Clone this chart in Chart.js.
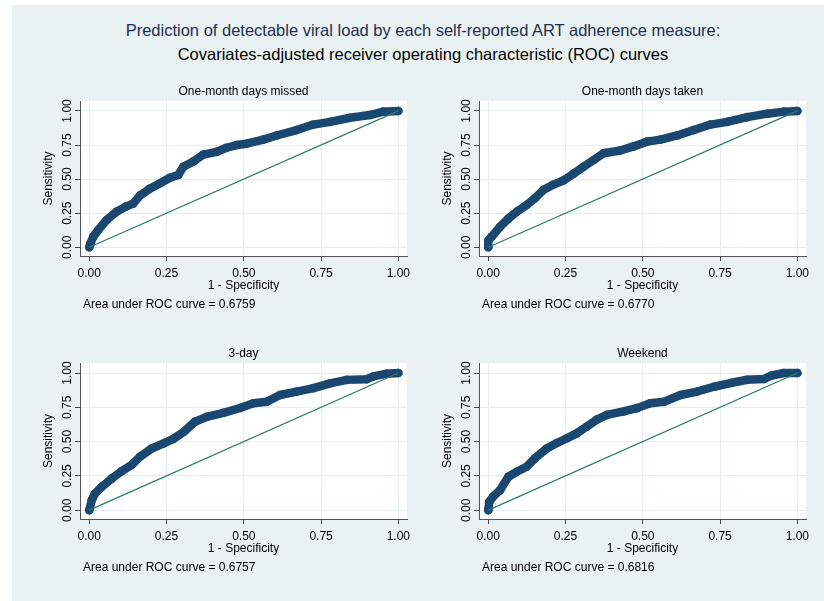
<!DOCTYPE html>
<html><head><meta charset="utf-8">
<script src="https://cdn.jsdelivr.net/npm/chart.js@4.4.0/dist/chart.umd.min.js"></script>
<style>
body{margin:0;width:824px;height:601px;background:#fff;position:relative;overflow:hidden;font-family:"Liberation Sans",Arial,sans-serif;}
#bg{position:absolute;left:12px;top:5px;right:0;bottom:0;background:#eaf1f3;}
.t{position:absolute;left:22px;right:0;text-align:center;font-size:16.5px;line-height:20px;white-space:nowrap;}
.p{position:absolute;}
canvas{display:block;}
</style></head><body>
<div id="bg"></div>
<div class="t" style="top:20px;color:#1f2e50">Prediction of detectable viral load by each self-reported ART adherence measure:</div>
<div class="t" style="top:44px;color:#000">Covariates-adjusted receiver operating characteristic (ROC) curves</div>
<div class="p" style="left:30px;top:80px"><canvas id="c0" width="390" height="240"></canvas></div>
<div class="p" style="left:429px;top:80px"><canvas id="c1" width="390" height="240"></canvas></div>
<div class="p" style="left:30px;top:342px"><canvas id="c2" width="390" height="241"></canvas></div>
<div class="p" style="left:429px;top:342px"><canvas id="c3" width="390" height="241"></canvas></div>
<script>
const panelTitles = ['One-month days missed', 'One-month days taken', '3-day', 'Weekend'];
const aucValues = ['0.6759', '0.6770', '0.6757', '0.6816'];
const tickValues = [0, 0.25, 0.5, 0.75, 1];
const tickLabels = ['0.00', '0.25', '0.50', '0.75', '1.00'];

const fprMissed = [0,0.004,0.013,0.029,0.056,0.088,0.12,0.142,0.164,0.196,0.229,0.261,0.288,0.304,0.337,0.369,0.412,0.444,0.477,0.509,0.563,0.606,0.671,0.725,0.779,0.844,0.908,0.951,1];
const tprMissed = [0,0.03,0.078,0.127,0.2,0.26,0.30,0.32,0.38,0.43,0.47,0.51,0.53,0.59,0.63,0.68,0.70,0.73,0.75,0.76,0.79,0.82,0.86,0.90,0.92,0.95,0.97,0.995,1];

const fprTaken = [0,0,0.011,0.038,0.065,0.092,0.124,0.151,0.178,0.211,0.243,0.276,0.308,0.341,0.373,0.427,0.470,0.514,0.557,0.611,0.665,0.719,0.773,0.838,0.903,0.957,1];
const tprTaken = [0,0.05,0.078,0.15,0.21,0.26,0.31,0.36,0.42,0.46,0.49,0.54,0.59,0.64,0.69,0.71,0.74,0.775,0.79,0.82,0.86,0.90,0.92,0.955,0.98,0.995,1];

const fpr3day = [0,0.008,0.018,0.04,0.072,0.105,0.137,0.164,0.202,0.239,0.272,0.305,0.342,0.38,0.434,0.488,0.531,0.574,0.617,0.671,0.725,0.779,0.833,0.898,0.919,0.962,1];
const tpr3day = [0,0.073,0.12,0.17,0.23,0.285,0.33,0.39,0.45,0.485,0.52,0.57,0.645,0.68,0.71,0.745,0.78,0.79,0.84,0.865,0.89,0.925,0.95,0.955,0.975,0.995,1];

const fprWeekend = [0,0.003,0.016,0.038,0.065,0.092,0.124,0.151,0.189,0.222,0.254,0.286,0.319,0.351,0.384,0.438,0.481,0.524,0.568,0.622,0.676,0.730,0.784,0.838,0.892,0.914,0.957,1];
const tprWeekend = [0,0.06,0.10,0.146,0.244,0.28,0.317,0.378,0.45,0.49,0.524,0.56,0.61,0.66,0.695,0.72,0.744,0.78,0.79,0.84,0.865,0.90,0.927,0.951,0.956,0.98,1.0,1];

const refX = [0, 1];
const refY = [0, 1];

const curves = [[fprMissed, tprMissed], [fprTaken, tprTaken], [fpr3day, tpr3day], [fprWeekend, tprWeekend]];

const FONT = '12px "Liberation Sans", Arial, sans-serif';

const textPlugin = {
  id: 'txt',
  beforeDraw(chart) {
    const {ctx, chartArea: a} = chart;
    ctx.save();
    ctx.fillStyle = '#ffffff';
    ctx.fillRect(a.left, a.top, a.right - a.left, a.bottom - a.top);
    ctx.restore();
  },
  afterDraw(chart, args, opts) {
    const {ctx, chartArea: a, scales: {y}} = chart;
    ctx.save();
    ctx.font = FONT;
    ctx.fillStyle = '#000';
    ctx.textAlign = 'center';
    ctx.textBaseline = 'middle';
    const cx = (a.left + a.right) / 2;
    ctx.fillText(opts.title, cx, a.top - 9.5);
    ctx.fillText('1 - Specificity', cx, a.bottom + 30);
    ctx.textAlign = 'left';
    ctx.fillText('Area under ROC curve = ' + opts.auc, a.left + 3, a.bottom + 49);
    ctx.textAlign = 'center';
    tickValues.forEach((v, i) => {
      const py = y.getPixelForValue(v);
      ctx.save();
      ctx.translate(a.left - 12, py);
      ctx.rotate(-Math.PI / 2);
      ctx.fillText(tickLabels[i], 0, 0);
      ctx.restore();
    });
    ctx.save();
    ctx.translate(a.left - 31, (a.top + a.bottom) / 2);
    ctx.rotate(-Math.PI / 2);
    ctx.fillText('Sensitivity', 0, 0);
    ctx.restore();
    ctx.restore();
  }
};

function setTicks(scale) {
  scale.ticks = tickValues.map(v => ({value: v}));
}

curves.forEach((c, i) => {
  const pts = c[0].map((x, k) => ({x: x, y: c[1][k]}));
  const ref = refX.map((x, k) => ({x: x, y: refY[k]}));
  const plotH = i < 2 ? 155 : 156;
  const canvasH = i < 2 ? 240 : 241;
  new Chart(document.getElementById('c' + i), {
    type: 'scatter',
    data: {
      datasets: [
        {data: ref, showLine: true, borderColor: '#2f7c6c', borderWidth: 1.3, pointRadius: 0, clip: false},
        {data: pts, showLine: true, borderColor: '#1a476f', backgroundColor: '#1a476f', borderWidth: 8.5,
         borderJoinStyle: 'round', borderCapStyle: 'round', pointRadius: 4.3, pointBorderWidth: 0,
         pointBackgroundColor: '#1a476f', tension: 0, clip: false}
      ]
    },
    options: {
      responsive: false,
      animation: false,
      events: [],
      layout: {padding: {top: 21, right: 13, left: 0, bottom: 0}},
      plugins: {legend: {display: false}, tooltip: {enabled: false}, title: {display: false},
        txt: {title: panelTitles[i], auc: aucValues[i]}},
      scales: {
        x: {
          type: 'linear', min: -0.03, max: 1.028,
          afterBuildTicks: setTicks,
          afterFit(s) { s.height = canvasH - 21 - plotH; },
          grid: {color: '#e6edf0', lineWidth: 1, tickLength: 5, tickColor: '#444'},
          border: {display: true, color: '#555', width: 1},
          ticks: {color: '#000', font: {family: '"Liberation Sans", Arial, sans-serif', size: 12}, padding: 5,
            maxRotation: 0, minRotation: 0, autoSkip: false,
            callback: (v) => { const k = tickValues.indexOf(v); return k >= 0 ? tickLabels[k] : ''; }}
        },
        y: {
          type: 'linear', min: -0.064, max: 1.073,
          afterBuildTicks: setTicks,
          afterFit(s) { s.width = 50; },
          grid: {color: '#e6edf0', lineWidth: 1, tickLength: 5, tickColor: '#444'},
          border: {display: true, color: '#555', width: 1},
          ticks: {display: false}
        }
      }
    },
    plugins: [textPlugin]
  });
});
</script>
</body></html>
